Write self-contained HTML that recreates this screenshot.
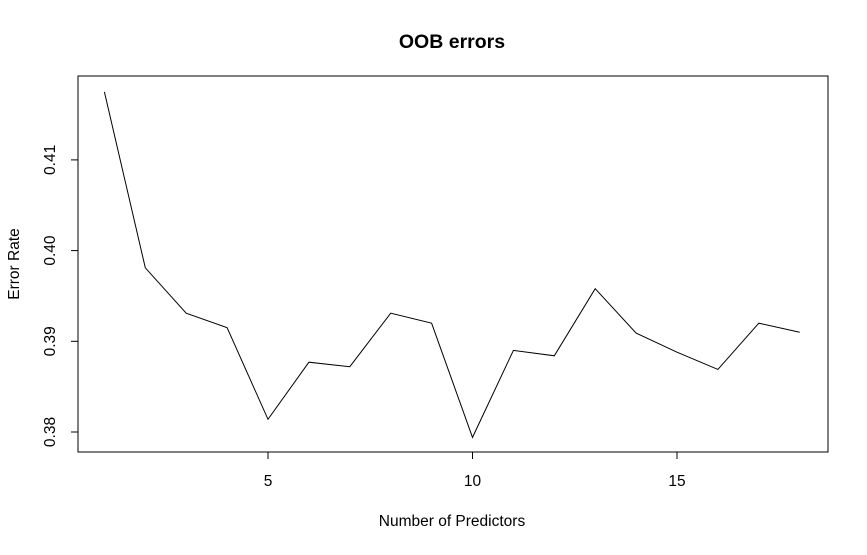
<!DOCTYPE html>
<html><head><meta charset="utf-8"><style>
body{margin:0;background:#fff;}
svg text{font-family:"Liberation Sans",Arial,sans-serif;fill:#000;}
</style></head><body>
<svg id="chart" width="867" height="550" viewBox="0 0 867 550">
<text x="452" y="48" text-anchor="middle" font-size="19.5" font-weight="bold">OOB errors</text>
<rect x="78" y="76" width="750" height="376" fill="none" stroke="#000" stroke-width="1"/>
<text x="452" y="526" text-anchor="middle" font-size="15.5">Number of Predictors</text>
<text transform="translate(19,264) rotate(-90)" text-anchor="middle" font-size="15.5">Error Rate</text>
<g id="xaxis"></g>
<g id="yaxis"></g>
<path id="line" fill="none" stroke="#000" stroke-width="1"/>
</svg>
<script>
const predictors=[1,2,3,4,5,6,7,8,9,10,11,12,13,14,15,16,17,18];
const errorRates=[0.4175,0.3981,0.3931,0.3915,0.3814,0.3877,0.3872,0.3931,0.3920,0.3794,0.3890,0.3884,0.3958,0.3909,0.3888,0.3869,0.3920,0.3910];
const xTicks=[5,10,15];
const yTicks=[0.38,0.39,0.40,0.41];
const yTickLabels=["0.38","0.39","0.40","0.41"];
function xs(v){return 268+(v-5)*40.9;}
function ys(v){return 432-(v-0.38)*9070;}
const NS="http://www.w3.org/2000/svg";
const xa=document.getElementById('xaxis'),ya=document.getElementById('yaxis');
function mk(t,a,p){const e=document.createElementNS(NS,t);for(const k in a)e.setAttribute(k,a[k]);p.appendChild(e);return e;}
const xl=mk('line',{x1:xs(xTicks[0]),x2:xs(xTicks[xTicks.length-1]),y1:452,y2:452,stroke:'#000'},xa);


xTicks.forEach(v=>{
 const t=mk('line',{x1:xs(v),x2:xs(v),y1:452,y2:459,stroke:'#000'},xa);
 
 
 const l=mk('text',{x:xs(v),y:486,'text-anchor':'middle','font-size':15.5},xa);l.textContent=v;
 
 
});
const yl=mk('line',{x1:78,x2:78,y1:ys(yTicks[0]),y2:ys(yTicks[yTicks.length-1]),stroke:'#000'},ya);


yTicks.forEach((v,i)=>{
 const t=mk('line',{x1:71,x2:78,y1:ys(v),y2:ys(v),stroke:'#000'},ya);
 
 
 const l=mk('text',{transform:`translate(55,${ys(v)}) rotate(-90)`,'text-anchor':'middle','font-size':15.5},ya);l.textContent=yTickLabels[i];
 
 
});
document.getElementById('line').setAttribute('d',predictors.map((p,i)=>(i?'L':'M')+xs(p).toFixed(1)+','+ys(errorRates[i]).toFixed(1)).join(''));
</script>
</body></html>
